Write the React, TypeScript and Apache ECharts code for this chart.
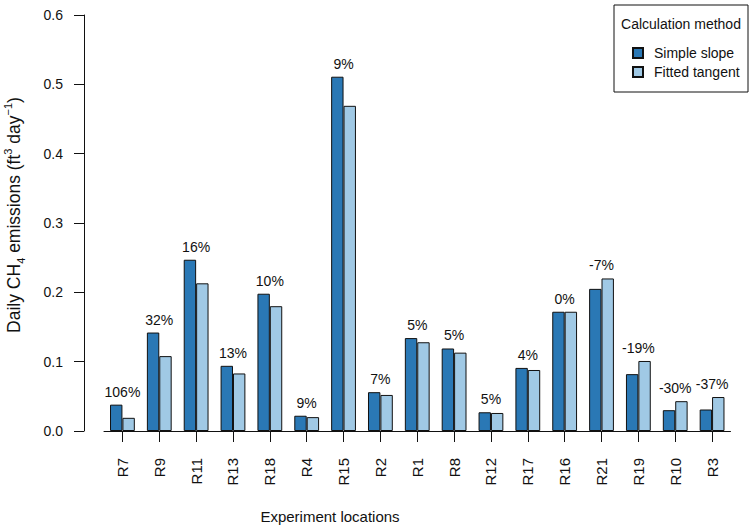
import React, { useEffect, useRef } from "react";
import * as echarts from "echarts";

const categories = ["R7", "R9", "R11", "R13", "R18", "R4", "R15", "R2", "R1", "R8", "R12", "R17", "R16", "R21", "R19", "R10", "R3"];
const simpleSlope = [0.038, 0.142, 0.247, 0.094, 0.198, 0.022, 0.511, 0.056, 0.134, 0.119, 0.027, 0.091, 0.172, 0.205, 0.082, 0.030, 0.031];
const fittedTangent = [0.019, 0.108, 0.213, 0.083, 0.180, 0.020, 0.469, 0.052, 0.128, 0.113, 0.026, 0.088, 0.172, 0.220, 0.101, 0.043, 0.049];
const pctLabels = ["106%", "32%", "16%", "13%", "10%", "9%", "9%", "7%", "5%", "5%", "5%", "4%", "0%", "-7%", "-19%", "-30%", "-37%"];
const yTicks = [0, 0.1, 0.2, 0.3, 0.4, 0.5, 0.6];

const FONT = "'Liberation Sans', Arial, Helvetica, sans-serif";
const DARK = "#2a78b5";
const LIGHT = "#a0c9e5";
const BAR_W = 12.4;

export default function App() {
  const ref = useRef<HTMLDivElement>(null);
  useEffect(() => {
    if (!ref.current) return;
    const chart = echarts.init(ref.current, undefined, { renderer: "svg" });
    const labelStyle = {
      position: "top",
      distance: 6,
      fontSize: 14,
      fontFamily: FONT,
      color: "#111",
      formatter: (p: any) => pctLabels[p.dataIndex],
    };
    const darkData = simpleSlope.map((v, i) => ({
      value: v,
      label: { ...labelStyle, show: v >= fittedTangent[i], offset: [BAR_W / 2, 0] },
    }));
    const lightData = fittedTangent.map((v, i) => ({
      value: v,
      label: { ...labelStyle, show: v > simpleSlope[i], offset: [-BAR_W / 2, 0] },
    }));
    chart.setOption({
      animation: false,
      backgroundColor: "#fff",
      textStyle: { fontFamily: FONT },
      grid: { left: 104, right: 19.5, top: 15, bottom: 97 },
      legend: {
        data: ["Simple slope", "Fitted tangent"],
        orient: "vertical",
        left: 627,
        top: 41,
        icon: "rect",
        itemWidth: 10,
        itemHeight: 10,
        itemGap: 5,
        textStyle: { fontSize: 14, fontFamily: FONT, color: "#111", padding: [0, 0, 0, 6] },
      },
      xAxis: {
        type: "category",
        data: categories,
        axisLine: { show: true, lineStyle: { color: "#111", width: 1 } },
        axisTick: { show: true, alignWithLabel: true, length: 11, lineStyle: { color: "#111" } },
        axisLabel: { rotate: 90, margin: 27, fontSize: 15, fontFamily: FONT, color: "#111" },
      },
      yAxis: {
        type: "value",
        min: 0,
        max: 0.6,
        interval: 0.1,
        offset: 20,
        axisLine: { show: true, lineStyle: { color: "#111", width: 1 } },
        axisTick: { show: true, length: 10, lineStyle: { color: "#111" } },
        splitLine: { show: false },
        axisLabel: {
          margin: 21,
          fontSize: 14,
          fontFamily: FONT,
          color: "#111",
          formatter: (v: number) => (yTicks.includes(Math.round(v * 10) / 10) ? v.toFixed(1) : ""),
        },
      },
      series: [
        {
          name: "Simple slope",
          type: "bar",
          barWidth: BAR_W,
          barGap: "0%",
          itemStyle: { color: DARK, borderColor: "#111", borderWidth: 1 },
          data: darkData,
        },
        {
          name: "Fitted tangent",
          type: "bar",
          barWidth: BAR_W,
          barGap: "0%",
          itemStyle: { color: LIGHT, borderColor: "#111", borderWidth: 1 },
          data: lightData,
        },
      ],
      graphic: [
        {
          type: "rect",
          shape: { x: 614, y: 5, width: 134, height: 87 },
          style: { fill: "none", stroke: "#111", lineWidth: 1 },
          z: 10,
        },
        {
          type: "text",
          x: 681,
          y: 24,
          style: {
            text: "Calculation method",
            align: "center",
            verticalAlign: "middle",
            fontSize: 14,
            fontFamily: FONT,
            fill: "#111",
          },
        },
        {
          type: "text",
          x: 330,
          y: 516,
          style: {
            text: "Experiment locations",
            align: "center",
            verticalAlign: "middle",
            fontSize: 15,
            fontFamily: FONT,
            fill: "#111",
          },
        },
        {
          type: "text",
          x: 14,
          y: 215,
          rotation: Math.PI / 2,
          style: {
            text: "Daily CH{sub|4} emissions (ft{sup|3} day{sup|\u22121})",
            align: "center",
            verticalAlign: "middle",
            fontSize: 17.5,
            fontFamily: FONT,
            fill: "#111",
            lineHeight: 24,
            rich: {
              sub: { fontSize: 11, fontFamily: FONT, fill: "#111", verticalAlign: "bottom", lineHeight: 24, padding: [9, 0, 0, 0] },
              sup: { fontSize: 11, fontFamily: FONT, fill: "#111", verticalAlign: "top", lineHeight: 24, padding: [0, 0, 9, 0] },
            },
          },
        },
      ],
    });
    return () => chart.dispose();
  }, []);
  return <div ref={ref} style={{ position: "fixed", left: 0, top: 0, width: 750, height: 528 }} />;
}
